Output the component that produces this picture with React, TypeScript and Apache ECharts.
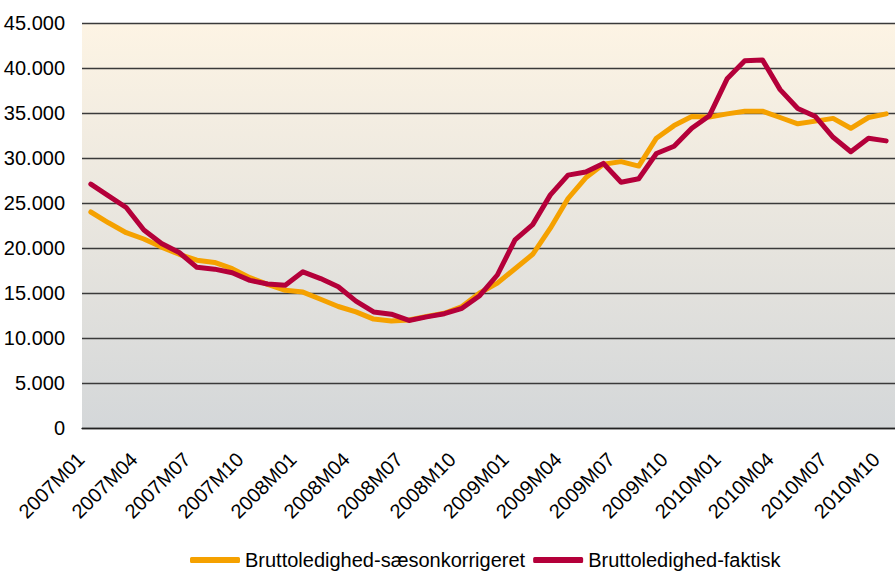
import React, { useEffect, useRef } from "react";
import * as echarts from "echarts";

const months = [
  "2007M01", "2007M02", "2007M03", "2007M04", "2007M05", "2007M06",
  "2007M07", "2007M08", "2007M09", "2007M10", "2007M11", "2007M12",
  "2008M01", "2008M02", "2008M03", "2008M04", "2008M05", "2008M06",
  "2008M07", "2008M08", "2008M09", "2008M10", "2008M11", "2008M12",
  "2009M01", "2009M02", "2009M03", "2009M04", "2009M05", "2009M06",
  "2009M07", "2009M08", "2009M09", "2009M10", "2009M11", "2009M12",
  "2010M01", "2010M02", "2010M03", "2010M04", "2010M05", "2010M06",
  "2010M07", "2010M08", "2010M09", "2010M10",
];

const seasonAdjusted = [
  24000, 22800, 21700, 21000, 20100, 19300, 18650, 18400, 17700, 16700, 15950, 15300,
  15100, 14300, 13500, 12900, 12100, 11900, 12000, 12400, 12750, 13500, 15000, 16100,
  17700, 19300, 22200, 25500, 27800, 29300, 29600, 29100, 32200, 33600, 34600, 34550,
  34900, 35200, 35200, 34500, 33800, 34100, 34400, 33300, 34500, 34900,
];

const actual = [
  27100, 25800, 24500, 22000, 20500, 19500, 17850, 17650, 17250, 16400, 16000, 15850,
  17350, 16600, 15700, 14100, 12900, 12650, 11950, 12350, 12700, 13300, 14700, 17000,
  20900, 22600, 25900, 28100, 28450, 29400, 27300, 27700, 30500, 31300, 33300, 34700,
  38800, 40800, 40900, 37600, 35500, 34600, 32300, 30700, 32200, 31900,
];

const seriesNames = ["Bruttoledighed-sæsonkorrigeret", "Bruttoledighed-faktisk"];
const seriesColors = ["#F5A100", "#B4003A"];

const FONT = "Arial, 'Liberation Sans', sans-serif";

function formatThousands(v: number): string {
  return String(v).replace(/\B(?=(\d{3})+(?!\d))/g, ".");
}

export default function App() {
  const ref = useRef<HTMLDivElement>(null);
  useEffect(() => {
    document.body.style.margin = "0";
    if (!ref.current) return;
    const chart = echarts.init(ref.current, undefined, { renderer: "svg" });
    chart.setOption({
      animation: false,
      backgroundColor: "#ffffff",
      textStyle: { fontFamily: FONT },
      grid: {
        left: 82,
        top: 23,
        height: 405,
        width: 819,
        show: true,
        borderWidth: 0,
        backgroundColor: new echarts.graphic.LinearGradient(0, 0, 0, 1, [
          { offset: 0, color: "#FDF4E4" },
          { offset: 1, color: "#D4D7D9" },
        ]),
      },
      legend: {
        left: 185,
        top: 545,
        padding: 5,
        itemWidth: 50,
        itemHeight: 6,
        itemGap: 8,
        icon: "roundRect",
        textStyle: { fontSize: 20, color: "#000", fontFamily: FONT },
        data: seriesNames,
      },
      xAxis: {
        type: "category",
        data: months,
        boundaryGap: true,
        axisLine: { show: true, lineStyle: { color: "#222", width: 1.3 } },
        axisTick: { show: false },
        axisLabel: {
          interval: 2,
          rotate: 45,
          fontSize: 20,
          color: "#000",
          fontFamily: FONT,
          margin: 18,
          padding: [0, 14, 0, 0],
        },
      },
      yAxis: {
        type: "value",
        min: 0,
        max: 45000,
        interval: 5000,
        axisLine: { show: false },
        axisTick: { show: false },
        splitLine: { show: true, lineStyle: { color: "#3a3a3a", width: 1.3 } },
        axisLabel: {
          fontSize: 20,
          color: "#000",
          fontFamily: FONT,
          margin: 17,
          formatter: (v: number) => formatThousands(v),
        },
      },
      series: [
        {
          name: seriesNames[0],
          type: "line",
          data: seasonAdjusted,
          showSymbol: false,
          color: seriesColors[0],
          lineStyle: { width: 5, color: seriesColors[0], cap: "round", join: "round" },
        },
        {
          name: seriesNames[1],
          type: "line",
          data: actual,
          showSymbol: false,
          color: seriesColors[1],
          lineStyle: { width: 5, color: seriesColors[1], cap: "round", join: "round" },
        },
      ],
    });
    return () => chart.dispose();
  }, []);
  return <div ref={ref} style={{ width: 895, height: 571 }} />;
}
